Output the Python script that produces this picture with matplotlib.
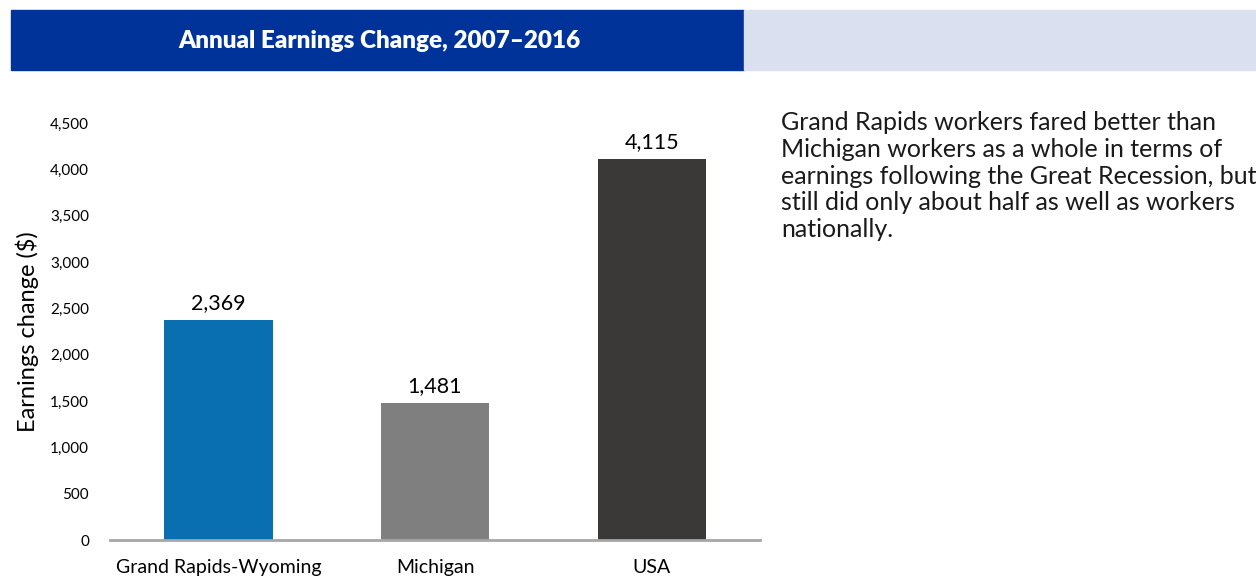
import matplotlib.pyplot as plt
from matplotlib.patches import Rectangle

plt.rcParams['font.family'] = ['Lato', 'DejaVu Sans']

# Datos
categories = ["Grand Rapids-Wyoming", "Michigan", "USA"]
values = [2369, 1481, 4115]
bar_colors = ["#0A6FB0", "#7F7F7F", "#3A3938"]
yticks = [0, 500, 1000, 1500, 2000, 2500, 3000, 3500, 4000, 4500]

title = "Annual Earnings Change, 2007\u20132016"
note = ("Grand Rapids workers fared better than\n"
        "Michigan workers as a whole in terms of\n"
        "earnings following the Great Recession, but\n"
        "still did only about half as well as workers\n"
        "nationally.")

fig = plt.figure(figsize=(12.56, 5.77), dpi=100)

# Cabecera
fig.patches.append(Rectangle((11 / 1256, 1 - 70 / 577), (744 - 11) / 1256, 60 / 577,
                             transform=fig.transFigure, color="#00339A", zorder=0))
fig.patches.append(Rectangle((744 / 1256, 1 - 70 / 577), (1256 - 744) / 1256, 60 / 577,
                             transform=fig.transFigure, color="#DAE0F0", zorder=0))
fig.text(379 / 1256, 1 - 41 / 577, title, color="white", fontsize=17.5, fontweight="heavy",
         ha="center", va="center")

ax = fig.add_axes([110 / 1256, 37 / 577, 650 / 1256, 417 / 577])
x = range(len(categories))
bars = ax.bar(x, values, width=0.5, color=bar_colors, zorder=2)
for b, v in zip(bars, values):
    ax.annotate(f"{v:,}", (b.get_x() + b.get_width() / 2, v), xytext=(0, 5),
                textcoords="offset points", ha="center", va="bottom", fontsize=15.5)

ax.set_xlim(-0.5, 2.5)
ax.set_ylim(0, 4500)
ax.set_yticks(yticks)
ax.set_yticklabels([f"{t:,}" for t in yticks], fontsize=11)
ax.set_xticks(list(x))
ax.set_xticklabels(categories, fontsize=14)
ax.tick_params(axis="both", length=0)
ax.tick_params(axis="y", pad=15)
ax.tick_params(axis="x", pad=14)
for s in ["top", "right", "left"]:
    ax.spines[s].set_visible(False)
ax.spines["bottom"].set_color("#A6A6A6")
ax.spines["bottom"].set_linewidth(2)
ax.set_ylabel("Earnings change ($)", fontsize=17, labelpad=8)

fig.text(781 / 1256, 1 - 111 / 577, note, fontsize=18, ha="left", va="top",
         linespacing=1.2, color="#1A1A1A")

fig.savefig("out.png", dpi=100)
